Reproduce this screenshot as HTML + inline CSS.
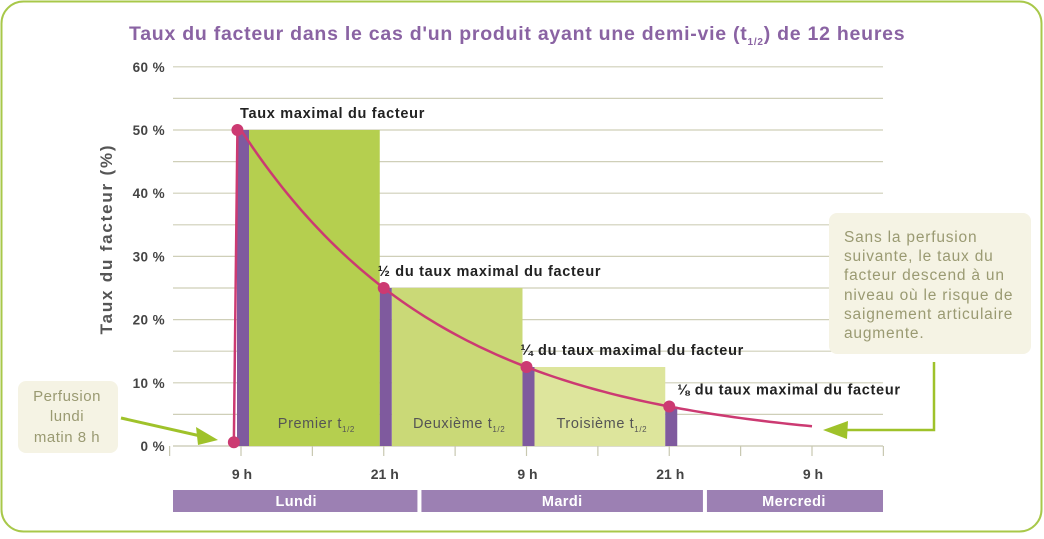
<!DOCTYPE html>
<html><head><meta charset="utf-8"><style>
body{margin:0;background:#fff;font-family:"Liberation Sans",sans-serif}
svg text{font-family:"Liberation Sans",sans-serif}
</style></head><body>
<svg id="c" width="1044" height="534" viewBox="0 0 1044 534">
<rect x="1.5" y="1.5" width="1040" height="530" rx="22" fill="#fff" stroke="#a8c84a" stroke-width="2"/>
<text x="129" y="40" font-size="19.5" letter-spacing="0.75" font-weight="bold" fill="#8a63a3">Taux du facteur dans le cas d'un produit ayant une demi-vie (t<tspan font-size="10" dy="5">1/2</tspan><tspan dy="-5">) de 12 heures</tspan></text>
<text transform="translate(112,239) rotate(-90)" text-anchor="middle" font-size="17" letter-spacing="1.8" font-weight="bold" fill="#555">Taux du facteur (%)</text>
<g id="grid"></g><g id="bars"></g><g id="curve"></g><g id="labels"></g>
<rect x="18" y="381" width="100" height="72" rx="8" fill="#f5f3e4"/>
<text font-size="15" letter-spacing="0.5" fill="#9a9a72" text-anchor="middle"><tspan x="67" y="401">Perfusion</tspan><tspan x="67" y="421">lundi</tspan><tspan x="67" y="442">matin 8 h</tspan></text>
<line x1="121" y1="418" x2="205" y2="437" stroke="#9fc22a" stroke-width="3"/>
<polygon points="218,440 196,427 198,445" fill="#9fc22a"/>
<rect x="829" y="213" width="202" height="141" rx="8" fill="#f5f3e4"/>
<text font-size="15.5" letter-spacing="0.8" fill="#9a9a72"><tspan x="844" y="242">Sans la perfusion</tspan><tspan x="844" y="261">suivante, le taux du</tspan><tspan x="844" y="280">facteur descend à un</tspan><tspan x="844" y="300">niveau où le risque de</tspan><tspan x="844" y="319">saignement articulaire</tspan><tspan x="844" y="338">augmente.</tspan></text>
<polyline points="934,362 934,430 840,430" fill="none" stroke="#9fc22a" stroke-width="2.5"/>
<polygon points="823,430 848,421 847,439" fill="#9fc22a"/>
</svg>
<script>
const yTicks=[0,10,20,30,40,50,60];
const xTickLabels=["9 h","21 h","9 h","21 h","9 h"];
const xTickHours=[0,12,24,36,48];
const days=["Lundi","Mardi","Mercredi"];
const dayStart=[-12,15,39];
const dayEnd=[15,39,54];
const peak=50;
const halfLifeH=12;
const infusionH=0;
const barLabels=["Premier","Deuxième","Troisième"];
const pointLabels=["Taux maximal du facteur","½ du taux maximal du facteur","¼ du taux maximal du facteur","⅛ du taux maximal du facteur"];
const endH=48;
const NS="http://www.w3.org/2000/svg";
const X=h=>241+h*142.75/12, Y=v=>446-v*6.32;
function mk(p,t,a){const e=document.createElementNS(NS,t);for(const k in a)e.setAttribute(k,a[k]);document.getElementById(p).appendChild(e);return e;}
const x0=173,x1=883;
for(let v=0;v<=60;v+=5){const l=mk('grid','line',{x1:x0,x2:x1,y1:Y(v),y2:Y(v),stroke:v==0?'#c8c8b0':'#cfcfb8','stroke-width':1.2});

}
yTicks.forEach(v=>{const t=mk('grid','text',{x:165,y:Y(v)+5,'text-anchor':'end','font-size':13.5,'letter-spacing':0.4,'font-weight':'bold',fill:'#444'});t.textContent=v+' %';

});
for(let h=-6;h<=54;h+=6){const l=mk('grid','line',{x1:X(h),x2:X(h),y1:446,y2:456,stroke:'#c8c8b0','stroke-width':1.2});

}
xTickHours.forEach((h,i)=>{const t=mk('grid','text',{x:X(h)+1,y:479,'text-anchor':'middle','font-size':14,'font-weight':'bold',fill:'#444'});t.textContent=xTickLabels[i];

});
days.forEach((d,i)=>{const a=Math.max(X(dayStart[i]),x0),b=Math.min(X(dayEnd[i]),x1);
const r=mk('grid','rect',{x:a+(i?2:0),y:490,width:b-a-(i?2:0)-(i<2?2:0),height:22,fill:'#9c80b3'});


const t=mk('grid','text',{x:(a+b)/2,y:506,'text-anchor':'middle','font-size':14.5,'letter-spacing':0.4,'font-weight':'bold',fill:'#fff'});t.textContent=d;

});
const greens=['#b5cf4f','#cad977','#dde59c'];
for(let k=0;k<3;k++){const v=peak/Math.pow(2,k),h=infusionH+k*halfLifeH;
const r=mk('bars','rect',{x:X(h)+8,y:Y(v),width:X(h+halfLifeH)-X(h)-12,height:Y(0)-Y(v),fill:greens[k]});


const t=mk('bars','text',{x:(X(h)+X(h+halfLifeH))/2+4,y:428,'text-anchor':'middle','font-size':14.5,'letter-spacing':0.6,fill:'#555'});
t.innerHTML=barLabels[k]+' t<tspan font-size="8" dy="4">1/2</tspan>';

}
for(let k=0;k<4;k++){const v=peak/Math.pow(2,k),h=infusionH+k*halfLifeH;
const r=mk('bars','rect',{x:X(h)-4,y:Y(v),width:12,height:Y(0)-Y(v),fill:'#7f5a9e'});

}
let d=`M${X(-0.6)},${Y(0.6)} C${X(-0.4)},${Y(30)} ${X(-0.35)},${Y(45)} ${X(-0.3)},${Y(peak)} L${X(0)},${Y(peak)}`;
for(let h=0.5;h<=endH;h+=0.5)d+=` L${X(h)},${Y(peak*Math.pow(0.5,h/halfLifeH))}`;
const p=mk('curve','path',{d:d,fill:'none',stroke:'#cc3a72','stroke-width':2.5});


const c0=mk('curve','circle',{cx:X(-0.6),cy:Y(0.6),r:6,fill:'#cc3a72'});


for(let k=0;k<4;k++){const v=peak/Math.pow(2,k),h=infusionH+k*halfLifeH,cx=k?X(h):X(-0.3);
const c=mk('curve','circle',{cx:cx,cy:Y(v),r:6,fill:'#cc3a72'});


const t=mk('labels','text',{x:k?cx+(k==3?8:-6):240,y:Y(v)-12,'font-size':14.5,'letter-spacing':0.7,'font-weight':'bold',fill:'#222'});t.textContent=pointLabels[k];

}
</script>
</body></html>
